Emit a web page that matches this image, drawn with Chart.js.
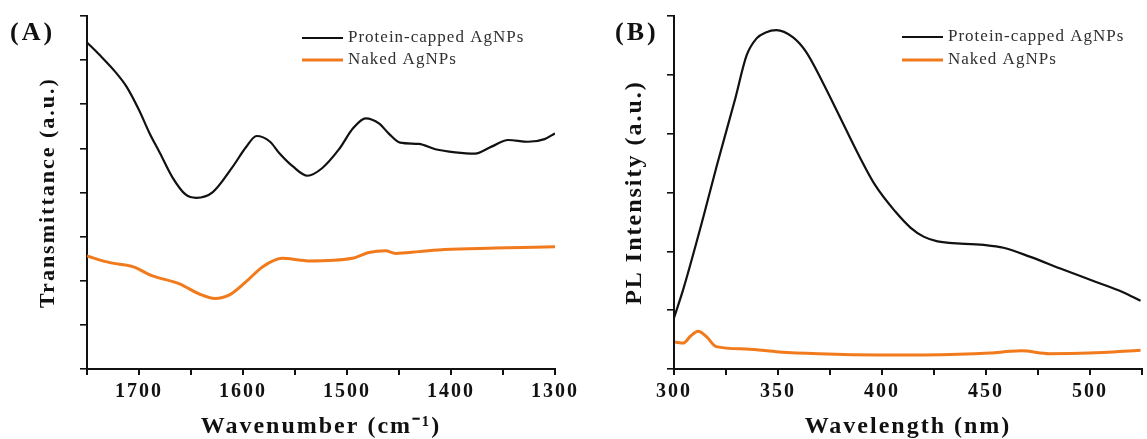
<!DOCTYPE html>
<html>
<head>
<meta charset="utf-8">
<script src="https://cdn.jsdelivr.net/npm/chart.js@4/dist/chart.umd.min.js"></script>
<style>
  html, body { margin:0; padding:0; background:#fff; width:1147px; height:439px; overflow:hidden; }
  .panel { position:absolute; top:0; height:439px; }
  #pA { left:0; width:580px; }
  #pB { left:580px; width:567px; }
</style>
</head>
<body>
<div class="panel" id="pA"><canvas id="cA" width="580" height="439"></canvas></div>
<div class="panel" id="pB"><canvas id="cB" width="567" height="439"></canvas></div>
<script>
// ---------- Data: panel (A) FTIR ----------
const seriesLabels = ['Protein-capped AgNPs', 'Naked AgNPs'];

const ftirProteinX = [1750,1738,1723,1712,1700,1690,1680,1668,1655,1645,1629,1610,1597,1587,1574,1565,1552,1538,1524,1508,1494,1482,1469,1460,1449,1431,1415,1396,1377,1361,1345,1326,1310,1300];
const ftirProteinY = [7.40,7.12,6.74,6.40,5.87,5.35,4.90,4.35,3.95,3.88,4.01,4.58,5.03,5.28,5.15,4.89,4.59,4.38,4.55,4.97,5.46,5.68,5.56,5.34,5.13,5.10,4.98,4.91,4.88,5.04,5.19,5.15,5.21,5.34];

const ftirNakedX = [1750,1728,1706,1687,1661,1642,1627,1613,1597,1581,1562,1546,1537,1495,1479,1463,1453,1431,1406,1358,1300];
const ftirNakedY = [2.56,2.41,2.32,2.11,1.93,1.70,1.60,1.68,1.98,2.32,2.51,2.47,2.45,2.51,2.64,2.68,2.62,2.66,2.71,2.74,2.77];

// ---------- Data: panel (B) PL ----------
const plProteinX = [300,304.4,314.3,320.6,329.4,334.9,339.7,344.1,349.2,357.1,363.5,371.4,379.4,388.9,396.8,406.3,413.8,420,426.7,448.9,458.4,471,487,502.9,515.6,524.3];
const plProteinY = [0.87,1.35,2.61,3.46,4.59,5.33,5.62,5.72,5.76,5.64,5.39,4.88,4.31,3.63,3.12,2.68,2.40,2.25,2.17,2.11,2.06,1.91,1.69,1.48,1.31,1.16];

const plNakedX = [300.5,304.4,308,311.6,315.6,320.3,334.6,350.5,369.5,398,420,452,461.4,467,480.5,499.5,524.3];
const plNakedY = [0.46,0.44,0.56,0.64,0.55,0.38,0.34,0.29,0.26,0.24,0.24,0.27,0.30,0.31,0.26,0.27,0.32];

// ---------- Axis settings ----------
const ftirXRange = [1300, 1750];
const ftirXStep = 50;
const ftirLabelStep = 100;
const ftirYRange = [0, 8];
const plXRange = [300, 525];
const plXStep = 25;
const plLabelStep = 50;
const plYRange = [0, 6];

const colors = ['#111111', '#f07a1c'];
const widths = [2.2, 3];

function pts(xs, ys) { return xs.map((x, i) => ({x: x, y: ys[i]})); }

const SERIF = "'Liberation Serif', 'Times New Roman', serif";

const decorPlugin = {
  id: 'decor',
  beforeDraw(chart) {
    chart.ctx.letterSpacing = '2px';
  },
  afterDraw(chart, args, opts) {
    const ctx = chart.ctx;
    ctx.save();
    ctx.letterSpacing = '3px';
    ctx.font = 'bold 26px ' + SERIF;
    ctx.fillStyle = '#111';
    ctx.textBaseline = 'middle';
    ctx.textAlign = 'left';
    ctx.fillText(opts.label, opts.labelX, opts.labelY);
    ctx.letterSpacing = '1px';
    ctx.font = '17px ' + SERIF;
    chart.data.datasets.forEach((ds, i) => {
      const y = opts.legY + i * opts.legGap;
      ctx.strokeStyle = ds.borderColor;
      ctx.lineWidth = ds.borderWidth;
      ctx.beginPath();
      ctx.moveTo(opts.legX, y);
      ctx.lineTo(opts.legX + 41, y);
      ctx.stroke();
      ctx.fillStyle = '#2f2f2f';
      ctx.fillText(ds.label, opts.legX + 46, y);
    });
    ctx.restore();
    ctx.letterSpacing = '2px';
  }
};

function makeChart(id, cfg) {
  const tickFont = {family: SERIF, weight: 'bold', size: 20};
  const titleFont = {family: SERIF, weight: 'bold', size: 24, lineHeight: 1};
  const yTitleFont = {family: SERIF, weight: 'bold', size: cfg.yTitleSize, lineHeight: 1};
  return new Chart(document.getElementById(id), {
    type: 'line',
    data: {
      datasets: [
        {label: seriesLabels[0], data: pts(cfg.x1, cfg.y1), borderColor: colors[0], borderWidth: widths[0], pointRadius: 0, cubicInterpolationMode: 'monotone', fill: false},
        {label: seriesLabels[1], data: pts(cfg.x2, cfg.y2), borderColor: colors[1], borderWidth: widths[1], pointRadius: 0, cubicInterpolationMode: 'monotone', fill: false}
      ]
    },
    options: {
      responsive: false,
      animation: false,
      devicePixelRatio: 1,
      layout: {padding: {top: 16, right: cfg.padRight, left: 0, bottom: 0}},
      plugins: {
        legend: {display: false},
        tooltip: {enabled: false},
        decor: cfg.decor
      },
      scales: {
        x: {
          type: 'linear',
          min: cfg.xRange[0], max: cfg.xRange[1],
          reverse: cfg.reverse,
          ticks: {
            stepSize: cfg.xStep,
            autoSkip: false,
            maxRotation: 0,
            padding: 5,
            color: '#111',
            font: tickFont,
            callback: v => (v % cfg.labelStep === 0 && v !== cfg.hideLabel) ? String(v) : ''
          },
          grid: {drawOnChartArea: false, drawTicks: true, tickLength: 6, color: '#111', lineWidth: 2},
          border: {display: true, color: '#111', width: 2},
          title: {display: true, text: cfg.xTitle, color: '#111', font: titleFont, padding: {top: 0, bottom: 0}},
          afterFit(s) { s.height = 70; }
        },
        y: {
          min: cfg.yRange[0], max: cfg.yRange[1],
          ticks: {stepSize: 1, display: false},
          grid: {drawOnChartArea: false, drawTicks: true, tickLength: 7, color: '#111', lineWidth: 1.6},
          border: {display: true, color: '#111', width: 2},
          title: {display: true, text: cfg.yTitle, color: '#111', font: yTitleFont, padding: {top: cfg.yTitlePad, bottom: 0}},
          afterFit(s) { s.width = cfg.yWidth; }
        }
      }
    },
    plugins: [decorPlugin]
  });
}

makeChart('cA', {
  x1: ftirProteinX, y1: ftirProteinY, x2: ftirNakedX, y2: ftirNakedY,
  xRange: ftirXRange, xStep: ftirXStep, labelStep: ftirLabelStep, yRange: ftirYRange,
  reverse: true, hideLabel: 1800, padRight: 23, yWidth: 87,
  yTitleSize: 22, yTitlePad: 37,
  xTitle: 'Wavenumber (cm\u207B\u00B9)', yTitle: 'Transmittance (a.u.)',
  decor: {label: '(A)', labelX: 10, labelY: 33, legX: 302, legY: 38, legGap: 22}
});

makeChart('cB', {
  x1: plProteinX, y1: plProteinY, x2: plNakedX, y2: plNakedY,
  xRange: plXRange, xStep: plXStep, labelStep: plLabelStep, yRange: plYRange,
  reverse: false, hideLabel: 550, padRight: 0, yWidth: 94,
  yTitleSize: 24, yTitlePad: 43,
  xTitle: 'Wavelength (nm)', yTitle: 'PL Intensity (a.u.)',
  decor: {label: '(B)', labelX: 35, labelY: 33, legX: 322, legY: 37, legGap: 23}
});
</script>
</body>
</html>
